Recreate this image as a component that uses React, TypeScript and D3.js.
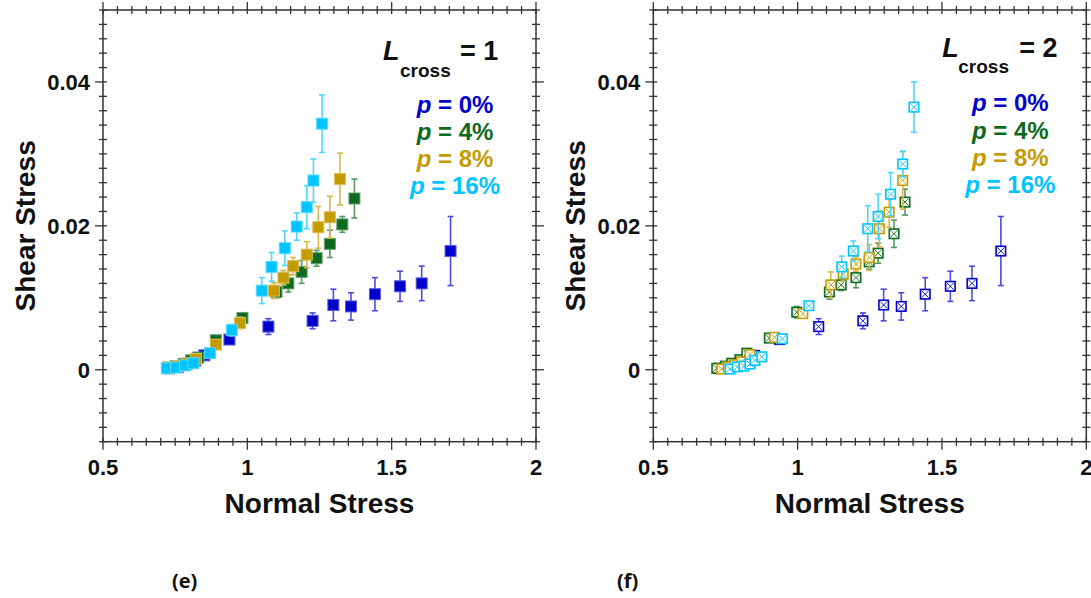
import React from "react";
import * as d3 from "d3";

// ---------- data ----------
const X_TICK_LABELS = [0.5, 1, 1.5, 2];
const Y_TICK_LABELS = [0, 0.02, 0.04];
const X_DOMAIN = [0.5, 2];
const Y_DOMAIN = [-0.01, 0.05];

const SERIES_NAMES = ["p = 0%", "p = 4%", "p = 8%", "p = 16%"];
const L_CROSS = [1, 2];
const PANEL_LABELS = ["(e)", "(f)"];

// p = 0% (same runs in both panels)
const P0_X = [0.728, 0.76, 0.79, 0.82, 0.851, 0.938, 1.073, 1.226, 1.298, 1.359, 1.442, 1.529, 1.604, 1.704];
const P0_Y = [0.0002, 0.0004, 0.0008, 0.0013, 0.002, 0.0042, 0.006, 0.0068, 0.009, 0.0088, 0.0105, 0.0116, 0.012, 0.0165];
const P0_E = [0, 0, 0, 0, 0.0003, 0.0003, 0.0011, 0.0011, 0.0022, 0.0019, 0.0023, 0.0021, 0.0024, 0.0048];

// L_cross = 1
const L1_P4_X = [0.725, 0.752, 0.78, 0.805, 0.83, 0.891, 0.983, 1.101, 1.142, 1.188, 1.24, 1.286, 1.329, 1.371];
const L1_P4_Y = [0.0003, 0.0005, 0.0008, 0.0013, 0.0017, 0.0041, 0.0072, 0.0108, 0.012, 0.0136, 0.0155, 0.0175, 0.0202, 0.0238];
const L1_P4_E = [0, 0, 0, 0, 0, 0.0003, 0.0004, 0.0008, 0.0012, 0.0016, 0.0011, 0.0019, 0.0011, 0.0027];

const L1_P8_X = [0.73, 0.758, 0.79, 0.822, 0.891, 0.975, 1.092, 1.125, 1.159, 1.206, 1.246, 1.286, 1.321];
const L1_P8_Y = [0.0003, 0.0005, 0.0009, 0.0015, 0.0035, 0.0065, 0.011, 0.0128, 0.0144, 0.016, 0.0198, 0.0212, 0.0265];
const L1_P8_E = [0, 0, 0, 0, 0.0004, 0.0008, 0.0011, 0.001, 0.0012, 0.0018, 0.0029, 0.0029, 0.0036];

const L1_P16_X = [0.721, 0.753, 0.784, 0.813, 0.871, 0.946, 1.05, 1.084, 1.13, 1.171, 1.206, 1.229, 1.259];
const L1_P16_Y = [0.0002, 0.0003, 0.0006, 0.0009, 0.0023, 0.0055, 0.011, 0.0143, 0.0169, 0.0199, 0.0226, 0.0263, 0.0342];
const L1_P16_E = [0, 0, 0, 0, 0, 0.0008, 0.0018, 0.002, 0.0024, 0.0019, 0.003, 0.003, 0.004];

// L_cross = 2
const L2_P4_X = [0.72, 0.75, 0.772, 0.8, 0.824, 0.902, 0.997, 1.11, 1.151, 1.202, 1.248, 1.279, 1.334, 1.372];
const L2_P4_Y = [0.0002, 0.0005, 0.0009, 0.0014, 0.0023, 0.0044, 0.008, 0.0108, 0.0118, 0.0128, 0.015, 0.0162, 0.0189, 0.0233];
const L2_P4_E = [0, 0, 0, 0, 0, 0.0003, 0.0008, 0.001, 0.0008, 0.0014, 0.001, 0.0014, 0.0019, 0.0018];

const L2_P8_X = [0.737, 0.76, 0.783, 0.806, 0.835, 0.92, 1.018, 1.115, 1.158, 1.202, 1.248, 1.283, 1.317, 1.364];
const L2_P8_Y = [0.0001, 0.0004, 0.0007, 0.0011, 0.0021, 0.0045, 0.0078, 0.0118, 0.0133, 0.0147, 0.0156, 0.0196, 0.0219, 0.0263];
const L2_P8_E = [0, 0, 0, 0, 0, 0.0003, 0.0006, 0.0018, 0.001, 0.001, 0.0018, 0.0025, 0.0021, 0.004];

const L2_P16_X = [0.766, 0.791, 0.814, 0.835, 0.852, 0.876, 0.947, 1.039, 1.153, 1.193, 1.243, 1.279, 1.322, 1.364, 1.403];
const L2_P16_Y = [0.0001, 0.0004, 0.0005, 0.0008, 0.0013, 0.0018, 0.0043, 0.0089, 0.0143, 0.0165, 0.0196, 0.0213, 0.0244, 0.0286, 0.0365];
const L2_P16_E = [0, 0, 0, 0, 0, 0, 0.0003, 0.0003, 0.0015, 0.0014, 0.0032, 0.0031, 0.003, 0.0018, 0.0035];

// ---------- style ----------
const COLORS = ["#0000CC", "#0E6A1E", "#C49B00", "#00C4FF"];
const FONT = "'Liberation Sans', Arial, sans-serif";
const AXIS = "#333";

type Pt = { x: number; y: number; e: number };
const zip = (xs: number[], ys: number[], es: number[]): Pt[] => xs.map((x, i) => ({ x, y: ys[i], e: es[i] }));

const PANELS = [
  {
    ox: 103,
    open: false,
    series: [zip(P0_X, P0_Y, P0_E), zip(L1_P4_X, L1_P4_Y, L1_P4_E), zip(L1_P8_X, L1_P8_Y, L1_P8_E), zip(L1_P16_X, L1_P16_Y, L1_P16_E)],
    title: { L: 280, sub: 297, eq: 357, base: 60, subBase: 77 },
    leg: { cx: 352, bases: [113, 140, 167, 194] },
    labelX: 172,
  },
  {
    ox: 653.3,
    open: true,
    series: [zip(P0_X, P0_Y, P0_E), zip(L2_P4_X, L2_P4_Y, L2_P4_E), zip(L2_P8_X, L2_P8_Y, L2_P8_E), zip(L2_P16_X, L2_P16_Y, L2_P16_E)],
    title: { L: 289, sub: 305, eq: 366, base: 57, subBase: 73 },
    leg: { cx: 357, bases: [111, 138.5, 166, 193] },
    labelX: 617,
  },
];

const W = 433;
const TOP = 10;
const BOTTOM = 441.7;
const SQ = 11;

function Panel({ idx }: { idx: number }) {
  const p = PANELS[idx];
  const x = d3.scaleLinear().domain(X_DOMAIN).range([p.ox, p.ox + W]);
  const y = d3.scaleLinear().domain(Y_DOMAIN).range([BOTTOM, TOP]);
  const xr = p.ox + W;

  const xMinor = d3.range(0, 31).map((i) => X_DOMAIN[0] + i * 0.05);
  const yMinor = d3.range(0, 31).map((i) => Y_DOMAIN[0] + i * 0.002);
  const isXMajor = (v: number) => X_TICK_LABELS.some((t) => Math.abs(t - v) < 1e-6);
  const isYMajor = (v: number) => Y_TICK_LABELS.some((t) => Math.abs(t - v) < 1e-6);

  const ticks: JSX.Element[] = [];
  xMinor.forEach((v, i) => {
    const px = x(v);
    const out = isXMajor(v) ? 8 : 4;
    ticks.push(<line key={"xb" + i} x1={px} x2={px} y1={BOTTOM - 4} y2={BOTTOM + out} stroke={AXIS} strokeWidth={1.3} />);
    ticks.push(<line key={"xt" + i} x1={px} x2={px} y1={TOP + 4} y2={TOP - out} stroke={AXIS} strokeWidth={1.3} />);
  });
  yMinor.forEach((v, i) => {
    const py = y(v);
    const out = isYMajor(v) ? 8 : 4;
    ticks.push(<line key={"yl" + i} x1={p.ox + 4} x2={p.ox - out} y1={py} y2={py} stroke={AXIS} strokeWidth={1.3} />);
    ticks.push(<line key={"yr" + i} x1={xr - 4} x2={xr + out} y1={py} y2={py} stroke={AXIS} strokeWidth={1.3} />);
  });

  const marks: JSX.Element[] = [];
  p.series.forEach((pts, si) => {
    const c = COLORS[si];
    const eb = d3.interpolateRgb(c, "#ffffff")(0.3);
    const edge = d3.interpolateRgb(c, "#ffffff")(0.35);
    pts.forEach((d, j) => {
      const cx = x(d.x);
      const cy = y(d.y);
      if (d.e > 0) {
        const y1 = y(d.y + d.e);
        const y2 = y(d.y - d.e);
        marks.push(
          <g key={`e${si}-${j}`} stroke={eb} strokeWidth={1.6}>
            <line x1={cx} x2={cx} y1={y1} y2={y2} />
            <line x1={cx - 3} x2={cx + 3} y1={y1} y2={y1} />
            <line x1={cx - 3} x2={cx + 3} y1={y2} y2={y2} />
          </g>
        );
      }
      const h = SQ / 2;
      if (!p.open) {
        marks.push(
          <rect key={`m${si}-${j}`} x={cx - h} y={cy - h} width={SQ} height={SQ} fill={c} stroke={edge} strokeWidth={1} />
        );
      } else {
        marks.push(
          <g key={`m${si}-${j}`}>
            <rect x={cx - h + 0.75} y={cy - h + 0.75} width={SQ - 1.5} height={SQ - 1.5} fill="#fff" stroke={c} strokeWidth={1.6} />
            <line x1={cx - h + 2} y1={cy - h + 2} x2={cx + h - 2} y2={cy + h - 2} stroke={c} strokeWidth={0.9} />
            <line x1={cx - h + 2} y1={cy + h - 2} x2={cx + h - 2} y2={cy - h + 2} stroke={c} strokeWidth={0.9} />
          </g>
        );
      }
    });
  });

  const midY = (TOP + BOTTOM) / 2;

  return (
    <g>
      <g>{marks}</g>
      <rect x={p.ox} y={TOP} width={W} height={BOTTOM - TOP} fill="none" stroke={AXIS} strokeWidth={1.5} />
      <g>{ticks}</g>
      {X_TICK_LABELS.map((t) => (
        <text key={"xl" + t} x={x(t)} y={475} textAnchor="middle" fontFamily={FONT} fontWeight="bold" fontSize={22} fill="#111">
          {String(t)}
        </text>
      ))}
      {Y_TICK_LABELS.map((t) => (
        <text key={"yl" + t} x={p.ox - 13} y={y(t) + 2} textAnchor="end" dominantBaseline="middle" fontFamily={FONT} fontWeight="bold" fontSize={22} fill="#111">
          {String(t)}
        </text>
      ))}
      <text x={p.ox + W / 2} y={513} textAnchor="middle" fontFamily={FONT} fontWeight="bold" fontSize={28} fill="#111">
        Normal Stress
      </text>
      <text
        transform={`translate(${p.ox - 68},${midY}) rotate(-90)`}
        textAnchor="middle"
        fontFamily={FONT}
        fontWeight="bold"
        fontSize={28}
        fill="#111"
      >
        Shear Stress
      </text>
      <text x={p.ox + p.title.L} y={p.title.base} fontFamily={FONT} fontWeight="bold" fontStyle="italic" fontSize={27} fill="#111">
        L
      </text>
      <text x={p.ox + p.title.sub} y={p.title.subBase} fontFamily={FONT} fontWeight="bold" fontSize={19} fill="#111">
        cross
      </text>
      <text x={p.ox + p.title.eq} y={p.title.base} fontFamily={FONT} fontWeight="bold" fontSize={27} fill="#111">
        {"= " + L_CROSS[idx]}
      </text>
      {SERIES_NAMES.map((n, si) => (
        <text key={"lg" + si} x={p.ox + p.leg.cx} y={p.leg.bases[si]} textAnchor="middle" fontFamily={FONT} fontWeight="bold" fontSize={24} fill={COLORS[si]}>
          <tspan fontStyle="italic">{n.slice(0, 1)}</tspan>
          <tspan>{n.slice(1)}</tspan>
        </text>
      ))}
      <text x={p.labelX} y={588} fontFamily="'Open Sans', sans-serif" fontWeight="bold" fontSize={20} fill="#111">
        {PANEL_LABELS[idx]}
      </text>
    </g>
  );
}

export default function App() {
  return (
    <svg width={1091} height={598} style={{ position: "absolute", left: 0, top: 0, background: "#fff" }}>
      <rect width={1091} height={598} fill="#fff" />
      <Panel idx={0} />
      <Panel idx={1} />
    </svg>
  );
}
